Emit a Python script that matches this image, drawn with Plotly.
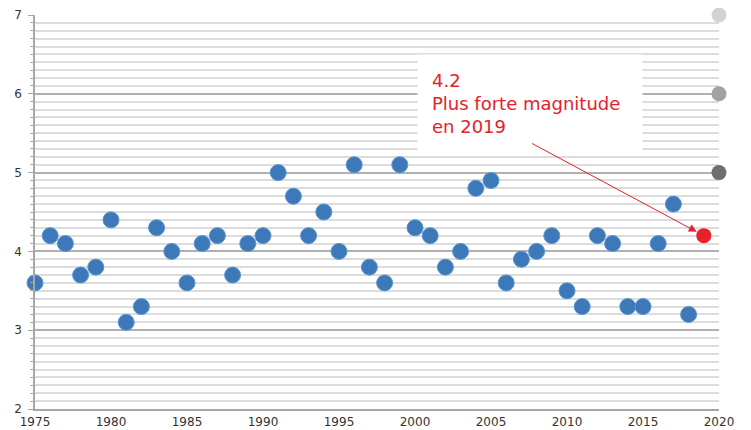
import plotly.graph_objects as go

years = list(range(1975, 2019))
magnitudes = [3.6, 4.2, 4.1, 3.7, 3.8, 4.4, 3.1, 3.3, 4.3, 4.0,
              3.6, 4.1, 4.2, 3.7, 4.1, 4.2, 5.0, 4.7, 4.2, 4.5,
              4.0, 5.1, 3.8, 3.6, 5.1, 4.3, 4.2, 3.8, 4.0, 4.8,
              4.9, 3.6, 3.9, 4.0, 4.2, 3.5, 3.3, 4.2, 4.1, 3.3,
              3.3, 4.1, 4.6, 3.2]
highlight_year = [2019]
highlight_mag = [4.2]
ref_years = [2020, 2020, 2020]
ref_mags = [7, 6, 5]
ref_colors = ["#d3d3d3", "#a2a2a2", "#6f6f6f"]
x_ticks = [1975, 1980, 1985, 1990, 1995, 2000, 2005, 2010, 2015, 2020]
y_ticks = [2, 3, 4, 5, 6, 7]
annot_text = "4.2<br>Plus forte magnitude<br>en 2019"

fig = go.Figure()
fig.add_trace(go.Scatter(
    x=years, y=magnitudes, mode="markers",
    marker=dict(size=16, color="#3d79b9", line=dict(color="#5a95cf", width=1)),
    cliponaxis=False, showlegend=False, hoverinfo="x+y"))
fig.add_trace(go.Scatter(
    x=ref_years, y=ref_mags, mode="markers",
    marker=dict(size=15, color=ref_colors, line=dict(width=0)),
    cliponaxis=False, showlegend=False))
fig.add_trace(go.Scatter(
    x=highlight_year, y=highlight_mag, mode="markers",
    marker=dict(size=15, color="#e8202a", line=dict(width=0)),
    cliponaxis=False, showlegend=False))

# text box
fig.add_annotation(
    x=2007.57, y=5.877, xref="x", yref="y", xanchor="center", yanchor="middle",
    text=annot_text, showarrow=False, align="left",
    font=dict(family="DejaVu Sans", size=18, color="#e8202a"),
    bgcolor="white", width=196, height=69, borderpad=14)
# arrow (drawn above the box)
fig.add_annotation(
    x=2019, y=4.2, ax=2007.6, ay=5.38, axref="x", ayref="y",
    text="", showarrow=True, arrowhead=2, arrowsize=1.6, arrowwidth=1,
    arrowcolor="#e8202a", standoff=8)

# the page body adds an 8px offset, so the figure is sized to compensate
fig.update_layout(
    width=743, height=422,
    margin=dict(l=27, r=32, t=7, b=21),
    plot_bgcolor="white", paper_bgcolor="white",
    font=dict(family="DejaVu Sans", size=12, color="#333333"),
    xaxis=dict(range=[1975, 2020], tickvals=x_ticks, showgrid=False,
               showline=True, linecolor="#a6a6a6", linewidth=1.5,
               ticks="", zeroline=False, tickfont=dict(size=12),
               automargin=False, ticklabelstandoff=1),
    yaxis=dict(range=[2, 7], tickvals=y_ticks, showgrid=True,
               gridcolor="#b0b0b0", gridwidth=1.5,
               showline=True, linecolor="#a6a6a6", linewidth=1.5,
               ticks="outside", ticklen=5, tickcolor="#a6a6a6", tickwidth=1,
               zeroline=False, tickfont=dict(size=12), automargin=False,
               ticklabelstandoff=4,
               minor=dict(dtick=0.1, showgrid=True, gridcolor="#dcdcdc",
                          gridwidth=1.5, ticks="outside", ticklen=3,
                          tickcolor="#a6a6a6")),
)

fig.write_html("out.html")
